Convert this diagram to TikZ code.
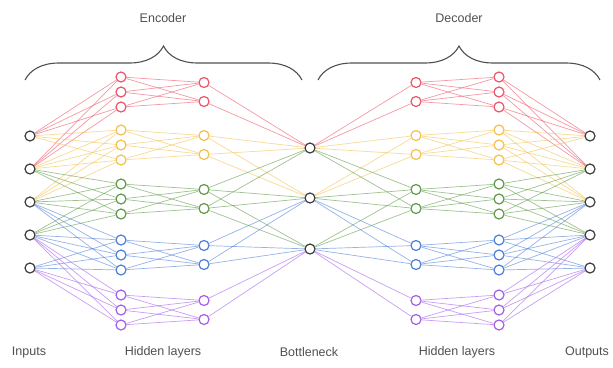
\documentclass[tikz,border=0pt]{standalone}
\usepackage{fontspec}
\setmainfont{Liberation Sans}
\usetikzlibrary{backgrounds,decorations.pathreplacing}
\definecolor{grpCol1}{HTML}{EC5566}
\definecolor{grpCol2}{HTML}{F2C14E}
\definecolor{grpCol3}{HTML}{5F9A48}
\definecolor{grpCol4}{HTML}{4E7FD6}
\definecolor{grpCol5}{HTML}{A45EEA}
\definecolor{unitGray}{HTML}{3C3C3C}
\definecolor{labGray}{HTML}{505050}
\tikzset{
	unit/.style={circle, draw=#1, fill=white, line width=1.2pt, inner sep=0pt, minimum size=10pt},
	unit/.default={unitGray},
	link/.style={draw=#1, line width=0.7pt, opacity=0.6},
	lab/.style={text=labGray, font=\fontsize{12.5}{14}\selectfont},
	curlyBrace/.style={draw=labGray, line width=1.1pt, decorate, decoration={brace, amplitude=34pt, aspect=0.5}}
}

\begin{document}
\begin{tikzpicture}[x=1pt, y=-1pt]
	\useasboundingbox (0,0) rectangle (613,367);
	% inputs, outputs, bottleneck
	\foreach \i/\y in {1/136,2/169,3/202,4/235,5/268} {
		\node[unit] (in\i) at (30,\y) {};
		\node[unit] (out\i) at (590,\y) {};
	}
	\foreach \b/\y in {1/148,2/198,3/249}
		\node[unit] (bot\b) at (310,\y) {};
	% hidden layers, one colour per group
	\foreach \g/\c in {1/92,2/145,3/199,4/255,5/310} {
		\foreach \k/\d in {1/-15,2/0,3/15} {
			\node[unit=grpCol\g] (encA\g\k) at (121,\c+\d) {};
			\node[unit=grpCol\g] (decB\g\k) at (499,\c+\d) {};
		}
		\foreach \k/\d in {1/-9.5,2/9.5} {
			\node[unit=grpCol\g] (encB\g\k) at (204,\c+\d) {};
			\node[unit=grpCol\g] (decA\g\k) at (416,\c+\d) {};
		}
	}
	
	\begin{scope}[on background layer]
		\foreach \g in {1,...,5} {
			\pgfmathtruncatemacro\lo{max(1,\g-1)}
			\pgfmathtruncatemacro\hi{min(5,\g+1)}
			\foreach \i in {\lo,...,\hi}
				\foreach \k in {1,2,3} {
					\draw[link=grpCol\g] (in\i) -- (encA\g\k);
					\draw[link=grpCol\g] (out\i) -- (decB\g\k);
				}
			\foreach \k in {1,2,3}
				\foreach \m in {1,2} {
					\draw[link=grpCol\g] (encA\g\k) -- (encB\g\m);
					\draw[link=grpCol\g] (decB\g\k) -- (decA\g\m);
				}
			\pgfmathtruncatemacro\blo{max(1,\g-2)}
			\pgfmathtruncatemacro\bhi{min(3,\g)}
			\foreach \b in {\blo,...,\bhi}
				\foreach \m in {1,2} {
					\draw[link=grpCol\g] (encB\g\m) -- (bot\b);
					\draw[link=grpCol\g] (decA\g\m) -- (bot\b);
				}
		}
	\end{scope}
	
	% braces
	\coordinate (encL) at (25,80);
	\coordinate (encR) at (302,80);
	\coordinate (decL) at (318,80);
	\coordinate (decR) at (600,80);
	\draw[curlyBrace] (encL) -- (encR);
	\draw[curlyBrace] (decL) -- (decR);
	\node[lab] (encTxt) at (163,18) {Encoder};
	\node[lab] (decTxt) at (459,18) {Decoder};
	
	\node[lab] (inTxt) at (29,352) {Inputs};
	\node[lab] (hidTxtA) at (163,352) {Hidden layers};
	\node[lab] (botTxt) at (309,352) {Bottleneck};
	\node[lab] (hidTxtB) at (457,352) {Hidden layers};
	\node[lab] (outTxt) at (587,352) {Outputs};
\end{tikzpicture}
\end{document}
